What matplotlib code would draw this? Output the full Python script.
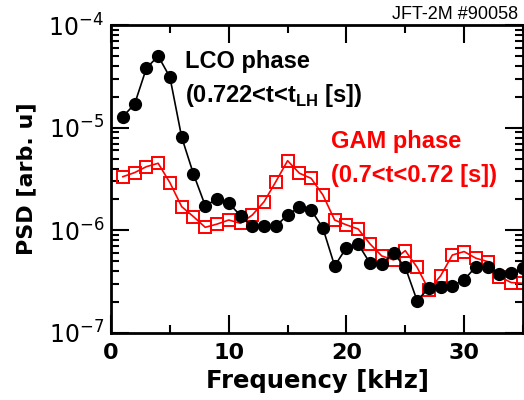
import numpy as np
import matplotlib.pyplot as plt
from matplotlib.ticker import MultipleLocator, LogLocator, NullFormatter

# frequency bins [kHz]
freq = np.arange(1, 36)

# LCO phase PSD (black filled circles)
psd_lco = [1.28e-5, 1.70e-5, 3.79e-5, 4.99e-5, 3.10e-5, 8.07e-6, 3.54e-6,
           1.74e-6, 2.01e-6, 1.84e-6, 1.39e-6, 1.09e-6, 1.10e-6, 1.10e-6,
           1.41e-6, 1.68e-6, 1.58e-6, 1.05e-6, 4.50e-7, 6.79e-7, 7.33e-7,
           4.79e-7, 4.71e-7, 5.98e-7, 4.37e-7, 2.07e-7, 2.73e-7, 2.83e-7,
           2.88e-7, 3.29e-7, 4.43e-7, 4.43e-7, 3.76e-7, 3.82e-7, 4.28e-7]

# GAM phase PSD (red open squares)
psd_gam = [3.33e-6, 3.65e-6, 4.17e-6, 4.50e-6, 2.91e-6, 1.70e-6, 1.36e-6,
           1.07e-6, 1.15e-6, 1.26e-6, 1.17e-6, 1.41e-6, 1.90e-6, 2.98e-6,
           4.77e-6, 3.60e-6, 3.21e-6, 2.21e-6, 1.26e-6, 1.13e-6, 1.03e-6,
           7.38e-7, 5.63e-7, 5.15e-7, 6.34e-7, 4.37e-7, 2.63e-7, 3.60e-7,
           5.75e-7, 6.21e-7, 5.35e-7, 4.96e-7, 3.54e-7, 3.10e-7, 3.05e-7]

fig = plt.figure(figsize=(5.24, 4.0), dpi=100)
ax = fig.add_axes([0.212, 0.1675, 0.786, 0.77])

ax.plot(freq, psd_gam, color='red', marker='s', markersize=8.5,
        markerfacecolor='none', markeredgewidth=1.4, linewidth=1.2)
ax.plot(freq, psd_lco, color='black', marker='o', markersize=8.5,
        linewidth=1.2)

ax.set_yscale('log')
ax.set_xlim(0, 35)
ax.set_ylim(1e-7, 1e-4)

ax.xaxis.set_major_locator(MultipleLocator(10))
ax.xaxis.set_minor_locator(MultipleLocator(5))
ax.yaxis.set_major_locator(LogLocator(base=10))
ax.yaxis.set_minor_locator(LogLocator(base=10, subs=np.arange(2, 10)))
ax.yaxis.set_minor_formatter(NullFormatter())

ax.tick_params(which='both', direction='in', top=True, right=True, width=1.5)
ax.tick_params(which='major', length=13)
ax.tick_params(which='minor', length=6)
ax.tick_params(axis='y', labelsize=17, pad=5)
ax.tick_params(axis='x', labelsize=16, pad=7)
for lab in ax.get_xticklabels():
    lab.set_fontweight('bold')
for sp in ax.spines.values():
    sp.set_linewidth(2)

ax.set_xlabel('Frequency [kHz]', fontsize=17.5, fontweight='bold')
ax.xaxis.set_label_coords(0.5, -0.118)
ax.set_ylabel('PSD [arb. u]', fontsize=16, fontweight='bold', labelpad=9)

af = dict(family='Liberation Sans', fontweight='bold', fontsize=17)
ax.text(0.18, 0.86, 'LCO phase', color='black', transform=ax.transAxes, **af)
ax.text(0.18, 0.75, r'(0.722<t<t$_{\mathdefault{LH}}$ [s])', color='black',
        transform=ax.transAxes, **af)
ax.text(0.535, 0.602, 'GAM phase', color='red', transform=ax.transAxes, **af)
ax.text(0.535, 0.49, '(0.7<t<0.72 [s])', color='red',
        transform=ax.transAxes, **af)

fig.text(0.989, 0.952, 'JFT-2M #90058', ha='right', va='baseline',
         family='Liberation Sans', fontsize=13)

fig.savefig('out.png', dpi=100)
